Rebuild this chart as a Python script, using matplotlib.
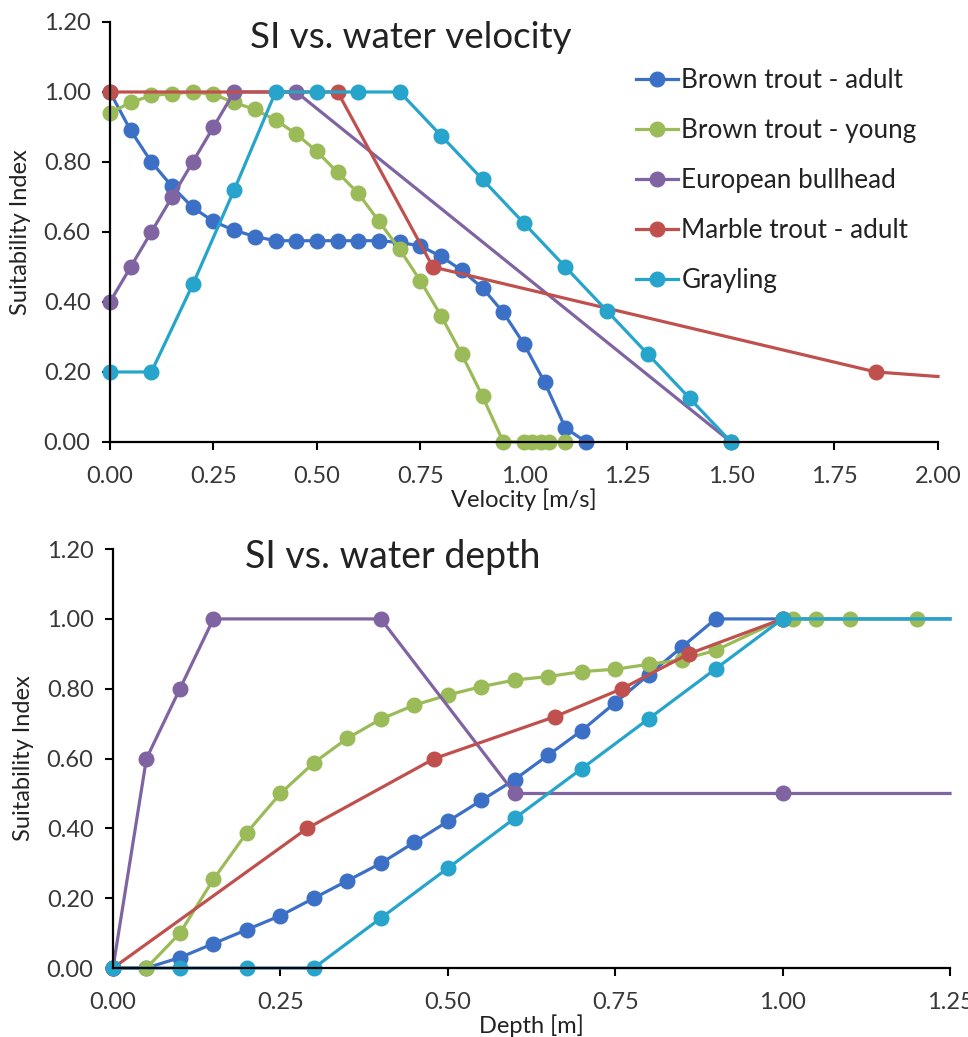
import matplotlib
matplotlib.use('Agg')
import matplotlib.pyplot as plt
from matplotlib.ticker import FormatStrFormatter, MultipleLocator

plt.rcParams['font.family'] = ['Lato', 'DejaVu Sans']

names = ['Brown trout - adult', 'Brown trout - young', 'European bullhead',
         'Marble trout - adult', 'Grayling']
colors = ['#3C70C6', '#9BBB59', '#8064A2', '#C0504D', '#26A4CB']

# SI vs. water velocity
adult_vel_x = [0.00, 0.05, 0.10, 0.15, 0.20, 0.25, 0.30, 0.35, 0.40, 0.45, 0.50, 0.55,
               0.60, 0.65, 0.70, 0.75, 0.80, 0.85, 0.90, 0.95, 1.00, 1.05, 1.10, 1.15]
adult_vel_y = [1.00, 0.89, 0.80, 0.73, 0.67, 0.63, 0.605, 0.587, 0.575, 0.575, 0.575, 0.575,
               0.575, 0.575, 0.57, 0.56, 0.53, 0.49, 0.44, 0.37, 0.28, 0.17, 0.04, 0.00]
young_vel_x = [0.00, 0.05, 0.10, 0.15, 0.20, 0.25, 0.30, 0.35, 0.40, 0.45, 0.50, 0.55,
               0.60, 0.65, 0.70, 0.75, 0.80, 0.85, 0.90, 0.95, 1.00, 1.02, 1.04, 1.06, 1.10]
young_vel_y = [0.94, 0.97, 0.99, 0.995, 1.00, 0.993, 0.97, 0.95, 0.92, 0.88, 0.83, 0.77,
               0.71, 0.63, 0.55, 0.46, 0.36, 0.25, 0.13, 0.00, 0.00, 0.00, 0.00, 0.00, 0.00]
bullhead_vel_x = [0.00, 0.05, 0.10, 0.15, 0.20, 0.25, 0.30, 0.45, 1.50]
bullhead_vel_y = [0.40, 0.50, 0.60, 0.70, 0.80, 0.90, 1.00, 1.00, 0.00]
marble_vel_x = [0.00, 0.55, 0.78, 1.85, 2.00]
marble_vel_y = [1.00, 1.00, 0.50, 0.20, 0.187]
grayling_vel_x = [0.00, 0.10, 0.20, 0.30, 0.40, 0.50, 0.60, 0.70, 0.80, 0.90, 1.00,
                  1.10, 1.20, 1.30, 1.40, 1.50]
grayling_vel_y = [0.20, 0.20, 0.45, 0.72, 1.00, 1.00, 1.00, 1.00, 0.875, 0.75, 0.625,
                  0.50, 0.375, 0.25, 0.125, 0.00]

# SI vs. water depth
adult_dep_x = [0.00, 0.05, 0.10, 0.15, 0.20, 0.25, 0.30, 0.35, 0.40, 0.45, 0.50, 0.55,
               0.60, 0.65, 0.70, 0.75, 0.80, 0.85, 0.90, 1.00, 1.25]
adult_dep_y = [0.00, 0.00, 0.03, 0.07, 0.11, 0.15, 0.20, 0.25, 0.30, 0.36, 0.42, 0.48,
               0.54, 0.61, 0.68, 0.76, 0.84, 0.92, 1.00, 1.00, 1.00]
young_dep_x = [0.05, 0.10, 0.15, 0.20, 0.25, 0.30, 0.35, 0.40, 0.45, 0.50, 0.55, 0.60,
               0.65, 0.70, 0.75, 0.80, 0.85, 0.90, 1.00, 1.015, 1.05, 1.10, 1.20]
young_dep_y = [0.00, 0.10, 0.254, 0.388, 0.50, 0.588, 0.658, 0.713, 0.753, 0.782, 0.806, 0.825,
               0.835, 0.849, 0.856, 0.87, 0.883, 0.91, 1.00, 1.00, 1.00, 1.00, 1.00]
bullhead_dep_x = [0.00, 0.05, 0.10, 0.15, 0.40, 0.60, 1.00, 1.25]
bullhead_dep_y = [0.00, 0.60, 0.80, 1.00, 1.00, 0.50, 0.50, 0.50]
marble_dep_x = [0.00, 0.29, 0.48, 0.66, 0.76, 0.86, 1.00]
marble_dep_y = [0.00, 0.40, 0.60, 0.72, 0.80, 0.90, 1.00]
grayling_dep_x = [0.00, 0.10, 0.20, 0.30, 0.40, 0.50, 0.60, 0.70, 0.80, 0.90, 1.00, 1.25]
grayling_dep_y = [0.00, 0.00, 0.00, 0.00, 0.143, 0.286, 0.429, 0.571, 0.714, 0.857, 1.00, 1.00]

vel_series = [(adult_vel_x, adult_vel_y, False), (young_vel_x, young_vel_y, False),
              (bullhead_vel_x, bullhead_vel_y, False), (marble_vel_x, marble_vel_y, True),
              (grayling_vel_x, grayling_vel_y, False)]
dep_series = [(adult_dep_x, adult_dep_y, True), (young_dep_x, young_dep_y, False),
              (bullhead_dep_x, bullhead_dep_y, True), (marble_dep_x, marble_dep_y, False),
              (grayling_dep_x, grayling_dep_y, True)]

fig = plt.figure(figsize=(9.68, 10.37), dpi=100)
ax1 = fig.add_axes([0.1136, 0.5738, 0.8554, 0.405])
ax2 = fig.add_axes([0.1167, 0.0665, 0.8647, 0.404])


def draw(ax, series):
    lines = []
    for (x, y, open_end), c, n in zip(series, colors, names):
        # last point only continues the line to the axis edge, no marker there
        me = list(range(len(x) - 1)) if open_end else None
        ln, = ax.plot(x, y, color=c, lw=2.3, marker='o', ms=10.5, mec=c,
                      markevery=me, clip_on=False, label=n)
        lines.append(ln)
    ax.set_ylim(0, 1.2)
    ax.yaxis.set_major_locator(MultipleLocator(0.2))
    ax.xaxis.set_major_locator(MultipleLocator(0.25))
    ax.yaxis.set_major_formatter(FormatStrFormatter('%.2f'))
    ax.xaxis.set_major_formatter(FormatStrFormatter('%.2f'))
    for s in ['top', 'right']:
        ax.spines[s].set_visible(False)
    for s in ['left', 'bottom']:
        ax.spines[s].set_linewidth(1.6)
        ax.spines[s].set_color('black')
    ax.tick_params(direction='out', length=6, width=1.5, labelsize=17,
                   colors='black', labelcolor='#383838')
    ax.tick_params(axis='x', pad=11)
    ax.tick_params(axis='y', pad=8)
    ax.set_ylabel('Suitability Index', fontsize=17, color='#222222', labelpad=9)
    return lines


lines = draw(ax1, vel_series)
ax1.set_xlim(0, 2.0)
ax1.set_xlabel('Velocity [m/s]', fontsize=17, color='#222222', labelpad=1)
ax1.text(0.169, 0.962, 'SI vs. water velocity', transform=ax1.transAxes,
         fontsize=26.5, color='#222222', va='center', ha='left')
ax1.legend(lines, names, loc='upper left', bbox_to_anchor=(0.635, 0.89),
           frameon=False, fontsize=18.8, handlelength=1.6, handletextpad=0.15,
           labelspacing=0.955, borderpad=0, borderaxespad=0, labelcolor='#222222')

draw(ax2, dep_series)
ax2.set_xlim(0, 1.25)
ax2.set_xlabel('Depth [m]', fontsize=17, color='#222222', labelpad=1)
ax2.text(0.158, 0.98, 'SI vs. water depth', transform=ax2.transAxes,
         fontsize=27, color='#222222', va='center', ha='left')

fig.savefig('out.png', dpi=100)
